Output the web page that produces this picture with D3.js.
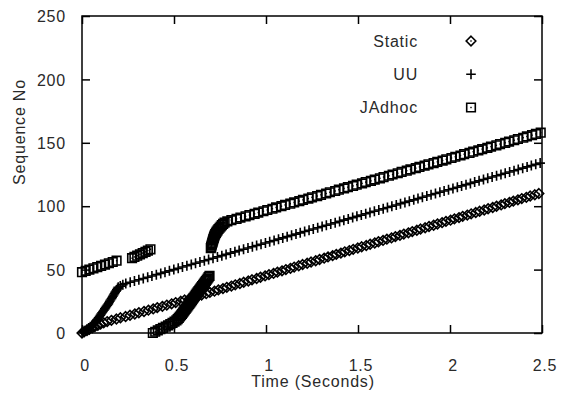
<!DOCTYPE html>
<html>
<head>
<meta charset="utf-8">
<script src="https://cdn.jsdelivr.net/npm/d3@7"></script>
<style>
  html, body { margin: 0; padding: 0; background: #fff; }
  svg { display: block; }
  text { font-family: "Liberation Sans", Arial, Helvetica, sans-serif; font-size: 16px; fill: #2a2a2a; letter-spacing: 0.8px; }
</style>
</head>
<body>
<svg id="chart" width="562" height="394"></svg>
<script>
// ---- data ----
const seriesNames = ["Static", "UU", "JAdhoc"];
const xTicks = [0, 0.5, 1, 1.5, 2, 2.5];
const xTickLabels = ["0", "0.5", "1", "1.5", "2", "2.5"];
const yTicks = [0, 50, 100, 150, 200, 250];
const yTickLabels = ["0", "50", "100", "150", "200", "250"];

// Static: sequence number = index, send time in seconds
const staticTime = [
  0.000, 0.012, 0.027, 0.040, 0.056, 0.070, 0.086, 0.101, 0.118, 0.137,
  0.160, 0.187, 0.209, 0.237, 0.261, 0.287, 0.309, 0.337, 0.361, 0.387,
  0.409, 0.437, 0.461, 0.487, 0.509, 0.537, 0.558, 0.583, 0.604, 0.629,
  0.650, 0.675, 0.695, 0.720, 0.741, 0.766, 0.787, 0.812, 0.833, 0.858,
  0.879, 0.904, 0.924, 0.949, 0.970, 0.995, 1.016, 1.041, 1.062, 1.087,
  1.108, 1.133, 1.153, 1.178, 1.199, 1.224, 1.245, 1.270, 1.291, 1.316,
  1.337, 1.362, 1.382, 1.407, 1.428, 1.453, 1.474, 1.499, 1.520, 1.545,
  1.566, 1.591, 1.611, 1.636, 1.657, 1.682, 1.703, 1.728, 1.749, 1.774,
  1.795, 1.820, 1.840, 1.865, 1.886, 1.911, 1.932, 1.957, 1.978, 2.003,
  2.024, 2.049, 2.069, 2.094, 2.115, 2.140, 2.161, 2.186, 2.207, 2.232,
  2.253, 2.278, 2.298, 2.323, 2.344, 2.369, 2.390, 2.415, 2.436, 2.461,
  2.483
];

// UU: sequence number = index, send time in seconds
const uuTime = [
  0.000, 0.009, 0.018, 0.027, 0.036, 0.045, 0.053, 0.061, 0.070, 0.075,
  0.080, 0.085, 0.090, 0.095, 0.100, 0.104, 0.109, 0.114, 0.119, 0.124,
  0.128, 0.133, 0.138, 0.143, 0.147, 0.151, 0.155, 0.160, 0.164, 0.168,
  0.172, 0.176, 0.180, 0.185, 0.189, 0.193, 0.197, 0.208, 0.222, 0.238,
  0.262, 0.285, 0.309, 0.333, 0.357, 0.380, 0.404, 0.428, 0.451, 0.475,
  0.499, 0.523, 0.546, 0.570, 0.594, 0.617, 0.641, 0.665, 0.688, 0.712,
  0.736, 0.760, 0.783, 0.807, 0.831, 0.854, 0.878, 0.902, 0.926, 0.949,
  0.973, 0.997, 1.020, 1.044, 1.068, 1.091, 1.115, 1.139, 1.163, 1.186,
  1.210, 1.234, 1.257, 1.281, 1.305, 1.328, 1.352, 1.376, 1.400, 1.423,
  1.447, 1.471, 1.494, 1.518, 1.542, 1.565, 1.589, 1.613, 1.637, 1.660,
  1.684, 1.708, 1.731, 1.755, 1.779, 1.803, 1.826, 1.850, 1.874, 1.897,
  1.921, 1.945, 1.968, 1.992, 2.016, 2.040, 2.063, 2.087, 2.111, 2.134,
  2.158, 2.182, 2.205, 2.229, 2.253, 2.277, 2.300, 2.324, 2.348, 2.371,
  2.395, 2.419, 2.442, 2.466, 2.490
];

// JAdhoc: explicit (time, sequence number) pairs
const jadhocTime = [
  // early burst
  0.000, 0.020, 0.040, 0.062, 0.083, 0.104, 0.125, 0.146, 0.167, 0.188,
  0.272, 0.285, 0.300, 0.315, 0.330, 0.345, 0.358, 0.372,
  // restart from 0
  0.385, 0.398, 0.412, 0.426, 0.440, 0.455, 0.468, 0.480, 0.492, 0.503,
  0.513, 0.520, 0.526, 0.532, 0.538, 0.543, 0.548, 0.553, 0.558, 0.563,
  0.568, 0.573, 0.578, 0.583, 0.588, 0.593, 0.598, 0.603, 0.608, 0.613,
  0.618, 0.623, 0.628, 0.633, 0.638, 0.643, 0.648, 0.653, 0.658, 0.663,
  0.668, 0.673, 0.678, 0.683, 0.688, 0.693,
  // jump
  0.700, 0.702, 0.704, 0.706, 0.708, 0.710, 0.712, 0.714, 0.716, 0.718,
  0.721, 0.724, 0.728, 0.732, 0.737, 0.742, 0.748, 0.754, 0.760, 0.767,
  0.775,
  // steady
  0.790, 0.812, 0.840, 0.861, 0.889, 0.910, 0.938, 0.958, 0.986, 1.007,
  1.035, 1.055, 1.084, 1.104, 1.132, 1.153, 1.181, 1.201, 1.230, 1.250,
  1.278, 1.299, 1.327, 1.347, 1.376, 1.396, 1.424, 1.445, 1.473, 1.493,
  1.522, 1.542, 1.570, 1.591, 1.619, 1.639, 1.668, 1.688, 1.716, 1.737,
  1.765, 1.785, 1.814, 1.834, 1.862, 1.883, 1.911, 1.931, 1.960, 1.980,
  2.008, 2.029, 2.057, 2.077, 2.106, 2.126, 2.154, 2.175, 2.203, 2.223,
  2.252, 2.272, 2.300, 2.321, 2.349, 2.369, 2.398, 2.418, 2.446, 2.467,
  2.493
];
const jadhocSeq = [
  48, 49, 50, 51, 52, 53, 54, 55, 56, 57,
  59, 60, 61, 62, 63, 64, 65, 66,
  0, 1, 2, 3, 4, 5, 6, 7, 8, 9,
  10, 11, 12, 13, 14, 15, 16, 17, 18, 19,
  20, 21, 22, 23, 24, 25, 26, 27, 28, 29,
  30, 31, 32, 33, 34, 35, 36, 37, 38, 39,
  40, 41, 42, 43, 44, 45,
  67, 68, 69, 70, 71, 72, 73, 74, 75, 76,
  77, 78, 79, 80, 81, 82, 83, 84, 85, 86,
  87,
  88, 89, 90, 91, 92, 93, 94, 95, 96, 97,
  98, 99, 100, 101, 102, 103, 104, 105, 106, 107,
  108, 109, 110, 111, 112, 113, 114, 115, 116, 117,
  118, 119, 120, 121, 122, 123, 124, 125, 126, 127,
  128, 129, 130, 131, 132, 133, 134, 135, 136, 137,
  138, 139, 140, 141, 142, 143, 144, 145, 146, 147,
  148, 149, 150, 151, 152, 153, 154, 155, 156, 157,
  158
];

// ---- drawing ----
const svg = d3.select("#chart");
const L = 82, R = 542, T = 16, B = 333;
const x = d3.scaleLinear().domain([0, 2.5]).range([L, R]);
const y = d3.scaleLinear().domain([0, 250]).range([B, T]);

const staticPts = staticTime.map((t, i) => [t, i]);
const uuPts = uuTime.map((t, i) => [t, i]);
const jadPts = jadhocTime.map((t, i) => [t, jadhocSeq[i]]);

const shapes = {
  diamond: "M0,-4.8L4.8,0L0,4.8L-4.8,0Z",
  plus: "M-4.8,0H4.8M0,-5V5",
  square: "M-4.3,-4.3H4.3V4.3H-4.3Z"
};
const seriesShapes = ["diamond", "plus", "square"];
const markStroke = 1.6;

// frame & ticks
const tickLen = 8;
svg.append("rect").attr("x", L).attr("y", T).attr("width", R - L).attr("height", B - T)
  .attr("fill", "none").attr("stroke", "#000").attr("stroke-width", 1.5);

const axB = d3.axisBottom(x).tickValues(xTicks).tickSizeInner(-tickLen).tickSizeOuter(0).tickFormat((d, i) => xTickLabels[i]).tickPadding(0);
const axT = d3.axisTop(x).tickValues(xTicks).tickSizeInner(-tickLen).tickSizeOuter(0).tickFormat("");
const axL = d3.axisLeft(y).tickValues(yTicks).tickSizeInner(-tickLen).tickSizeOuter(0).tickFormat((d, i) => yTickLabels[i]);
const axR = d3.axisRight(y).tickValues(yTicks).tickSizeInner(-tickLen).tickSizeOuter(0).tickFormat("");

function styleAxis(g) {
  g.select(".domain").remove();
  g.selectAll(".tick line").attr("stroke", "#000").attr("stroke-width", 1.5);
  g.selectAll(".tick text").attr("font-family", null).attr("font-size", null).attr("fill", "#2a2a2a");
}
const gB = svg.append("g").attr("transform", `translate(0,${B})`).call(axB).call(styleAxis);
gB.selectAll(".tick text").attr("y", 38).attr("dy", null).attr("dx", 2.5);
svg.append("g").attr("transform", `translate(0,${T})`).call(axT).call(styleAxis);
const gL = svg.append("g").attr("transform", `translate(${L},0)`).call(axL).call(styleAxis);
gL.selectAll(".tick text").attr("x", -16).attr("dy", "0.36em");
svg.append("g").attr("transform", `translate(${R},0)`).call(axR).call(styleAxis);

// axis titles
svg.append("text").attr("x", 313).attr("y", 387).attr("text-anchor", "middle").text("Time (Seconds)");
svg.append("text").attr("transform", "translate(25,132) rotate(-90)").attr("text-anchor", "middle").text("Sequence No");

// points
function drawSeries(pts, shape) {
  const g = svg.append("g");
  g.selectAll("path").data(pts).enter().append("path")
    .attr("transform", d => `translate(${x(d[0])},${y(d[1])})`)
    .attr("d", shapes[shape])
    .attr("fill", "none").attr("stroke", "#000").attr("stroke-width", markStroke);
  if (shape !== "plus") {
    g.selectAll("rect").data(pts).enter().append("rect")
      .attr("x", d => x(d[0]) - 0.7).attr("y", d => y(d[1]) - 0.7)
      .attr("width", 1.4).attr("height", 1.4).attr("fill", "#000");
  }
}
drawSeries(staticPts, "diamond");
drawSeries(uuPts, "plus");
drawSeries(jadPts, "square");

// legend
const legY = [41, 74.3, 107.5];
seriesNames.forEach((name, i) => {
  svg.append("text").attr("x", 418).attr("y", legY[i]).attr("dy", "0.36em")
    .attr("text-anchor", "end").text(name);
  const g = svg.append("g").attr("transform", `translate(471,${legY[i]})`);
  g.append("path").attr("d", shapes[seriesShapes[i]]).attr("fill", "none")
    .attr("stroke", "#000").attr("stroke-width", markStroke);
  if (seriesShapes[i] !== "plus") {
    g.append("rect").attr("x", -0.7).attr("y", -0.7).attr("width", 1.4).attr("height", 1.4).attr("fill", "#000");
  }
});
</script>
</body>
</html>
